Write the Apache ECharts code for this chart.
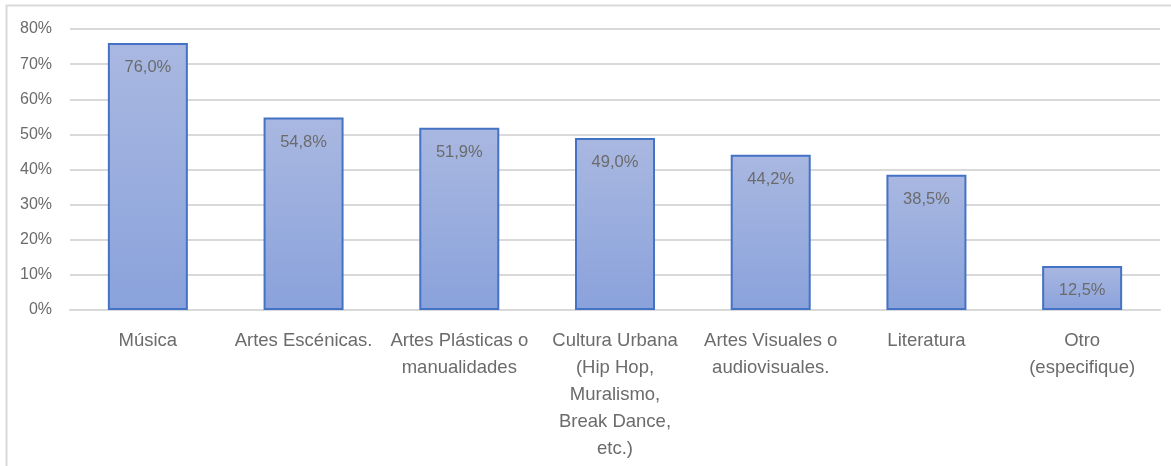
<!DOCTYPE html>
<html>
<head>
<meta charset="utf-8">
<script src="https://cdn.jsdelivr.net/npm/echarts@6/dist/echarts.min.js"></script>
<style>
  html, body { margin: 0; padding: 0; background: #fff; }
  #chart { width: 1171px; height: 466px; }
</style>
</head>
<body>
<div id="chart"></div>
<script>
// categorias y porcentajes
const categories = [
  'Música',
  'Artes Escénicas.',
  'Artes Plásticas o\nmanualidades',
  'Cultura Urbana\n(Hip Hop,\nMuralismo,\nBreak Dance,\netc.)',
  'Artes Visuales o\naudiovisuales.',
  'Literatura',
  'Otro\n(especifique)'
]
const values = [76.0, 54.8, 51.9, 49.0, 44.2, 38.5, 12.5]
const yTicks = [0, 10, 20, 30, 40, 50, 60, 70, 80]

const textColor = '#6b6b6b'
const font = '"Liberation Sans", Arial, sans-serif'

const chart = echarts.init(document.getElementById('chart'))

chart.setOption({
  animation: false,
  graphic: [{
    type: 'rect',
    left: 4,
    top: 3,
    shape: { width: 1200, height: 500 },
    style: { fill: 'none', stroke: '#d9d9d9', lineWidth: 2 }
  }],
  grid: {
    left: 70,
    right: 11,
    top: 29,
    bottom: 156
  },
  xAxis: {
    type: 'category',
    data: categories,
    axisLine: { show: true, lineStyle: { color: '#d9d9d9', width: 2 } },
    axisTick: { show: false },
    axisLabel: {
      interval: 0,
      color: textColor,
      fontFamily: font,
      fontSize: 18.5,
      lineHeight: 27,
      margin: 17
    }
  },
  yAxis: {
    type: 'value',
    min: yTicks[0],
    max: yTicks[yTicks.length - 1],
    interval: 10,
    axisLine: { show: false },
    axisTick: { show: false },
    splitLine: { lineStyle: { color: '#d9d9d9', width: 2 } },
    axisLabel: {
      color: textColor,
      fontFamily: font,
      fontSize: 16,
      margin: 18,
      formatter: v => v + '%'
    }
  },
  series: [{
    type: 'bar',
    data: values,
    barWidth: 80,
    itemStyle: {
      color: new echarts.graphic.LinearGradient(0, 0, 0, 1, [
        { offset: 0, color: '#a9b8e1' },
        { offset: 1, color: '#8aa2db' }
      ], false),
      borderColor: '#4472c4',
      borderWidth: 2
    },
    label: {
      show: true,
      position: 'insideTop',
      distance: 16,
      color: textColor,
      fontFamily: font,
      fontSize: 16.5,
      formatter: p => p.value.toFixed(1).replace('.', ',') + '%'
    }
  }]
})
</script>
</body>
</html>
